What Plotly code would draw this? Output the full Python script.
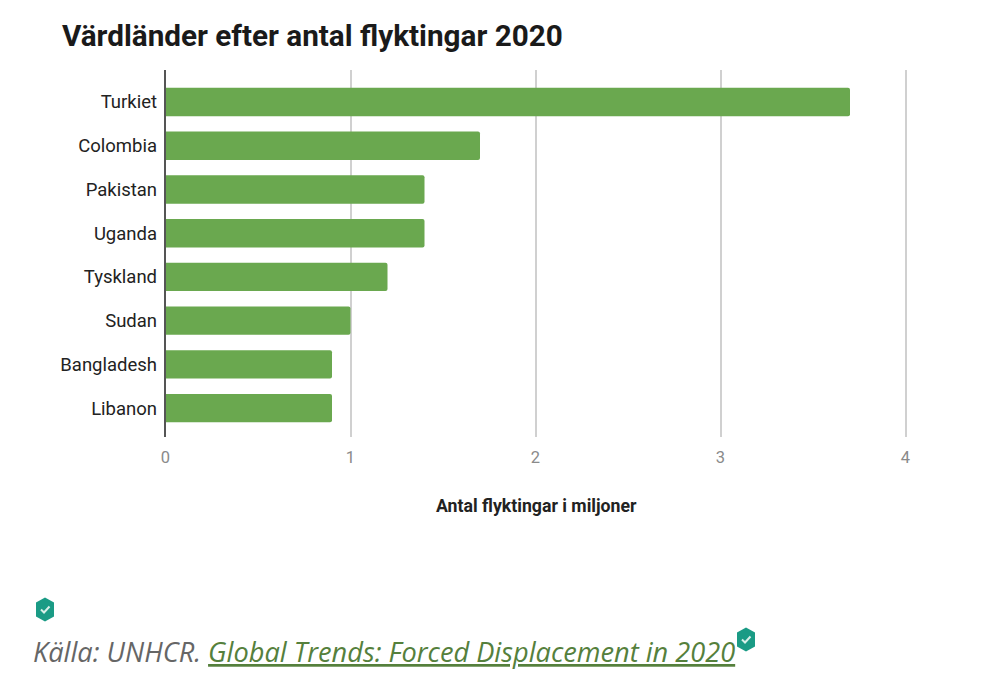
import plotly.graph_objects as go

W, H = 985, 688

countries = ["Turkiet", "Colombia", "Pakistan", "Uganda", "Tyskland", "Sudan", "Bangladesh", "Libanon"]
refugees = [3.7, 1.7, 1.4, 1.4, 1.2, 1.0, 0.9, 0.9]
x_ticks = [0, 1, 2, 3, 4]

GREEN = "#6aa84f"


def px(x):
    return x / W


def py(y):
    return 1 - y / H


# small shield icons next to the source line
def shield_shapes(cx, cy):
    w, h = 9, 12
    body = (
        f"M {px(cx)} {py(cy - h)} L {px(cx + w)} {py(cy - h + 5)} L {px(cx + w)} {py(cy + h - 5)} "
        f"L {px(cx)} {py(cy + h)} L {px(cx - w)} {py(cy + h - 5)} L {px(cx - w)} {py(cy - h + 5)} Z"
    )
    check = f"M {px(cx - 4)} {py(cy)} L {px(cx - 1)} {py(cy + 3)} L {px(cx + 4.5)} {py(cy - 3)}"
    return [
        dict(type="path", xref="paper", yref="paper", path=body, fillcolor="#1a9b85", line_width=0),
        dict(type="path", xref="paper", yref="paper", path=check, line=dict(color="#d8efe9", width=2)),
    ]


fig = go.Figure(
    go.Bar(
        y=countries,
        x=refugees,
        orientation="h",
        width=0.65,
        marker=dict(color=GREEN, cornerradius=2, line_width=0),
    )
)

fig.update_layout(
    width=W,
    height=H,
    margin=dict(l=0, r=0, t=0, b=0),
    paper_bgcolor="white",
    plot_bgcolor="white",
    showlegend=False,
    font=dict(family="Roboto"),
    title=dict(
        text="<b>Värdländer efter antal flyktingar 2020</b>",
        x=62 / W,
        xanchor="left",
        y=py(36),
        yanchor="middle",
        font=dict(size=29.7, color="#1a1a1a", family="Roboto"),
    ),
    xaxis=dict(
        # range runs slightly past 4, plotly drops a gridline sitting on the edge
        domain=[px(165.5), px(909.2)],
        range=[0, 4.02],
        tickvals=x_ticks,
        automargin=False,
        showgrid=True,
        gridcolor="#d0d0d0",
        gridwidth=1.5,
        zeroline=False,
        showline=False,
        ticks="",
        tickfont=dict(size=16.5, color="#8a8a8a"),
        ticklabelstandoff=8,
        anchor="y",
    ),
    yaxis=dict(
        domain=[py(437), py(70)],
        range=[7.66, -0.73],
        automargin=False,
        showgrid=False,
        zeroline=False,
        showline=True,
        linecolor="#555555",
        linewidth=1.5,
        ticks="",
        tickfont=dict(size=18.5, color="#222222"),
        ticklabelstandoff=3,
    ),
    shapes=shield_shapes(45, 609.5) + shield_shapes(746, 639.5),
    annotations=[
        dict(
            text="<b>Antal flyktingar i miljoner</b>",
            xref="paper",
            yref="paper",
            x=px(536),
            xanchor="center",
            y=py(506),
            yanchor="middle",
            showarrow=False,
            font=dict(size=17.7, color="#222222"),
        ),
        dict(
            text="<i>Källa: UNHCR. </i><span style='color:#55803c'><i><u>Global Trends: Forced Displacement in 2020</u></i></span>",
            xref="paper",
            yref="paper",
            x=px(31),
            xanchor="left",
            y=py(651),
            yanchor="middle",
            showarrow=False,
            font=dict(size=27.2, color="#666666", family="Open Sans"),
        ),
    ],
)

fig.write_html("out.html", config={"displayModeBar": False}, post_script="document.body.style.margin='0';")
